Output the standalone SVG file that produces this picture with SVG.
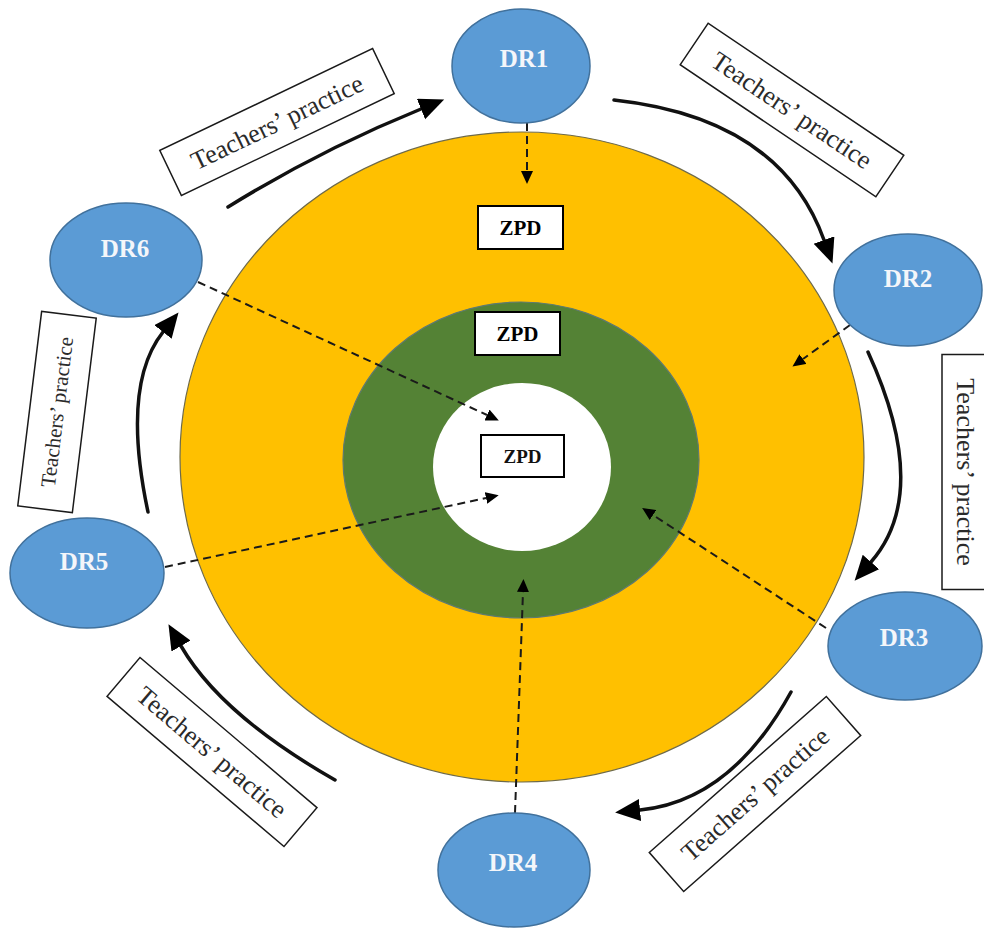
<svg xmlns="http://www.w3.org/2000/svg" width="984" height="928" viewBox="0 0 984 928">
  <style>
    .dr { fill: #5B9BD5; stroke: #41719C; stroke-width: 1.5; }
    .drt { font-family: "Liberation Serif", "Times New Roman", serif; font-weight: bold; font-size: 25px; fill: #F4F6FA; text-anchor: middle; }
    .zbox { fill: #FFFFFF; stroke: #000000; stroke-width: 2; }
    .zt { font-family: "Liberation Serif", "Times New Roman", serif; font-weight: bold; font-size: 21px; fill: #000000; text-anchor: middle; }
    .zt-small { font-size: 19px; fill: #111111; }
    .tbox { fill: #FFFFFF; stroke: #1A1A1A; stroke-width: 1.5; }
    .tt { font-family: "Liberation Serif", "Times New Roman", serif; font-size: 26px; fill: #2A2A2A; text-anchor: middle; }
    .tt-small { font-size: 21px; }
    .flow { fill: none; stroke: #111111; stroke-width: 3.5; stroke-linecap: round; marker-end: url(#bigHead); }
    .reach { fill: none; stroke: #1A1A1A; stroke-width: 2; stroke-dasharray: 8 5; marker-end: url(#smallHead); }
  </style>
  <defs>
    <marker id="bigHead" markerUnits="userSpaceOnUse" markerWidth="28" markerHeight="24" refX="0" refY="11" orient="auto">
      <path d="M0,0 L25,11 L0,22 z" fill="#000000"/>
    </marker>
    <marker id="smallHead" markerUnits="userSpaceOnUse" markerWidth="14" markerHeight="12" refX="0" refY="6" orient="auto">
      <path d="M0,0 L13,6 L0,12 z" fill="#000000"/>
    </marker>
  </defs>

  <rect width="984" height="928" fill="#FFFFFF"/>

  <!-- concentric zones -->
  <g id="zones">
    <ellipse cx="522" cy="457" rx="342" ry="325" fill="#FFC000" stroke="#6E6A4A" stroke-width="1.2"/>
    <ellipse cx="521" cy="460" rx="178" ry="158" fill="#548235" stroke="#5E7A70" stroke-width="1.2"/>
    <ellipse cx="522" cy="467" rx="89" ry="84" fill="#FFFFFF"/>
  </g>

  <!-- ZPD labels -->
  <g id="zpd-outer">
    <rect class="zbox" x="478" y="206" width="85" height="43"/>
    <text class="zt" x="520.5" y="235">ZPD</text>
  </g>
  <g id="zpd-middle">
    <rect class="zbox" x="475" y="312" width="85" height="43"/>
    <text class="zt" x="517.5" y="341">ZPD</text>
  </g>
  <g id="zpd-inner">
    <rect class="zbox" x="481" y="435" width="83" height="42" stroke-width="1.5"/>
    <text class="zt zt-small" x="522.5" y="463">ZPD</text>
  </g>

  <!-- connectors -->
  <g id="connectors">
    <!-- teachers' practice cycle -->
    <path class="flow" d="M228,207 Q320,150 421,109"/>
    <path class="flow" d="M614,100 Q780,118 824,240"/>
    <path class="flow" d="M868,352 Q932,492 871,562"/>
    <path class="flow" d="M791,692 Q731,801 640,810"/>
    <path class="flow" d="M335,780 Q221,715 181,646"/>
    <path class="flow" d="M148,512 Q121,385 163,332"/>
    <!-- reach into the zones -->
    <path class="reach" d="M527,123 L527,171"/>
    <path class="reach" d="M850,325 L803,359"/>
    <path class="reach" d="M826,628 L653,515"/>
    <path class="reach" d="M515,813 L523,592"/>
    <path class="reach" d="M165,567 L486,498"/>
    <path class="reach" d="M198,282 L487,415"/>
  </g>

  <!-- practice labels -->
  <g id="practice-1" transform="translate(277,122) rotate(-25.6)">
    <rect class="tbox" x="-118" y="-25" width="236" height="50"/>
    <text class="tt" x="0" y="9">Teachers’ practice</text>
  </g>
  <g id="practice-2" transform="translate(792,110) rotate(34)">
    <rect class="tbox" x="-118" y="-25" width="236" height="50"/>
    <text class="tt" x="0" y="9">Teachers’ practice</text>
  </g>
  <g id="practice-3" transform="translate(966,472) rotate(90)">
    <rect class="tbox" x="-117.5" y="-24" width="235" height="48"/>
    <text class="tt" x="0" y="9">Teachers’ practice</text>
  </g>
  <g id="practice-4" transform="translate(755,794) rotate(-41.4)">
    <rect class="tbox" x="-118" y="-26" width="236" height="52"/>
    <text class="tt" x="0" y="9">Teachers’ practice</text>
  </g>
  <g id="practice-5" transform="translate(212,752) rotate(40.3)">
    <rect class="tbox" x="-116" y="-25.5" width="232" height="51"/>
    <text class="tt" x="0" y="9">Teachers’ practice</text>
  </g>
  <g id="practice-6" transform="translate(57,412) rotate(-83)">
    <rect class="tbox" x="-98" y="-27.5" width="196" height="55"/>
    <text class="tt tt-small" x="0" y="7">Teachers’ practice</text>
  </g>

  <!-- DR nodes -->
  <g id="DR1">
    <ellipse class="dr" cx="521" cy="66" rx="69" ry="57"/>
    <text class="drt" x="524" y="67">DR1</text>
  </g>
  <g id="DR2">
    <ellipse class="dr" cx="908" cy="290" rx="74" ry="56"/>
    <text class="drt" x="908" y="287">DR2</text>
  </g>
  <g id="DR3">
    <ellipse class="dr" cx="905" cy="646" rx="77" ry="54"/>
    <text class="drt" x="904" y="646">DR3</text>
  </g>
  <g id="DR4">
    <ellipse class="dr" cx="514" cy="870" rx="76" ry="57"/>
    <text class="drt" x="513" y="871">DR4</text>
  </g>
  <g id="DR5">
    <ellipse class="dr" cx="87" cy="573" rx="77" ry="55"/>
    <text class="drt" x="84" y="570">DR5</text>
  </g>
  <g id="DR6">
    <ellipse class="dr" cx="126" cy="260" rx="76" ry="57"/>
    <text class="drt" x="125" y="257">DR6</text>
  </g>
</svg>
